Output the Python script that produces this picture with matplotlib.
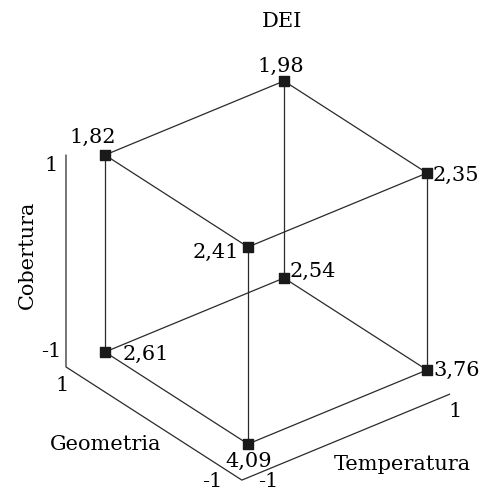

# ============================================
# CUBE PLOT - DEI vs Temperatura, Geometria, Cobertura
# ============================================

import numpy as np
import matplotlib
matplotlib.use("Agg")
import matplotlib.pyplot as plt

# ============================================
# STEP 1: DATA
# ============================================

temperatura = [-1, 1, -1, 1, -1, 1, -1, 1]
geometria = [-1, -1, 1, 1, -1, -1, 1, 1]
cobertura = [-1, -1, -1, -1, 1, 1, 1, 1]
dei = [4.09, 3.76, 2.61, 2.54, 2.41, 2.35, 1.82, 1.98]

level_labels = ["-1", "1"]
axis_names = ["Temperatura", "Geometria", "Cobertura"]
title = "DEI"

# ============================================
# STEP 2: PROJECTION (oblique view, pixel units)
# ============================================

center = np.array([266.0, 262.5])
t_vec = np.array([89.5, -37.0])
g_vec = np.array([-71.5, -46.0])
c_vec = np.array([0.0, -98.5])


def project(t, g, c):
    p = center + t * t_vec + g * g_vec + c * c_vec
    return p[0], p[1]


plt.rcParams["font.family"] = "DejaVu Serif"
fig = plt.figure(figsize=(4.86, 4.91), dpi=100)
ax = fig.add_axes([0, 0, 1, 1])
ax.set_xlim(0, 486)
ax.set_ylim(491, 0)
ax.axis("off")

line_color = "#2a2a2a"
fs = 15

# ============================================
# STEP 3: CUBE EDGES
# ============================================

pts = list(zip(temperatura, geometria, cobertura))
for i in range(len(pts)):
    for j in range(i + 1, len(pts)):
        diff = sum(1 for a, b in zip(pts[i], pts[j]) if a != b)
        if diff == 1:
            x1, y1 = project(*pts[i])
            x2, y2 = project(*pts[j])
            ax.plot([x1, x2], [y1, y2], color=line_color, lw=0.9, zorder=1)

xs, ys = zip(*[project(*p) for p in pts])
ax.scatter(xs, ys, marker="s", s=60, color="#1a1a1a", zorder=3)

# label placement relative to each corner
offsets = [(1, 17, "center"), (6, 0, "left"), (18, 2, "left"), (6, -7, "left"),
           (-9, 5, "right"), (6, 2, "left"), (-12, -18, "center"), (-3, -15, "center")]
for x, y, v, (dx, dy, ha) in zip(xs, ys, dei, offsets):
    ax.text(x + dx, y + dy, f"{v:.2f}".replace(".", ","), fontsize=fs,
            ha=ha, va="center")

# ============================================
# STEP 4: AXIS FRAME
# ============================================

t0, t1 = -1.34, 0.98
g0, g1 = -1.34, 1.12
c0, c1 = -1.08, 1.07

frame = [project(t0, g1, c1), project(t0, g1, c0),
         project(t0, g0, c0), project(t1, g0, c0)]
fx, fy = zip(*frame)
ax.plot(fx, fy, color=line_color, lw=0.9)

D, A, B, C = frame
ax.text(D[0] - 8, D[1] + 10, level_labels[1], fontsize=fs, ha="right", va="center")
ax.text(A[0] - 4, A[1] - 15, level_labels[0], fontsize=fs, ha="right", va="center")
ax.text(A[0] - 4, A[1] + 19, level_labels[1], fontsize=fs, ha="center", va="center")
ax.text(B[0] - 30, B[1] + 1, level_labels[0], fontsize=fs, ha="center", va="center")
ax.text(B[0] + 26, B[1] + 1, level_labels[0], fontsize=fs, ha="center", va="center")
ax.text(C[0] + 6, C[1] + 17, level_labels[1], fontsize=fs, ha="center", va="center")

ax.text(282, 21, title, fontsize=fs, ha="center", va="center")
ax.text(27, 255, axis_names[2], fontsize=fs, ha="center", va="center", rotation=90)
ax.text(106, 445, axis_names[1], fontsize=fs, ha="center", va="center")
ax.text(402, 464, axis_names[0], fontsize=fs, ha="center", va="center")

fig.savefig("out.png", dpi=100)
